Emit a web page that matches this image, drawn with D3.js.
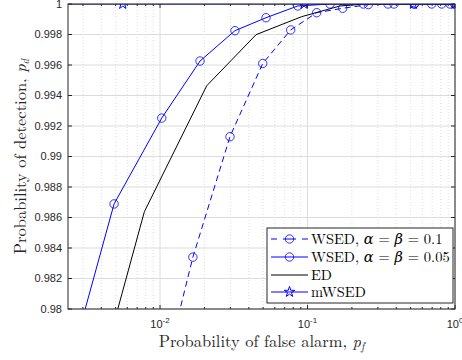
<!DOCTYPE html>
<html>
<head>
<meta charset="utf-8">
<script src="https://cdn.jsdelivr.net/npm/d3@7"></script>
<style>
  body { margin: 0; background: #fff; }
</style>
</head>
<body>
<div id="vis"></div>
<script>
var width = 462;
var height = 360;

// values
var pfWsed01 = [0.0076, 0.0167, 0.0298, 0.0497, 0.0769, 0.1154, 0.1732, 0.2584, 0.3858, 0.53, 0.695, 0.925, 1];
var pdWsed01 = [0.97, 0.9834, 0.9913, 0.9961, 0.9983, 0.99943, 0.99972, 0.99996, 1, 1, 1, 1, 1];

var pfWsed005 = [0.00224, 0.00488, 0.01027, 0.01867, 0.0322, 0.0523, 0.0858, 0.1421, 0.239, 0.3514, 0.53, 0.8125, 1];
var pdWsed005 = [0.975, 0.98689, 0.99252, 0.99626, 0.99825, 0.9991, 0.99987, 1, 1, 1, 1, 1, 1];

var pfEd = [0.0027, 0.00783, 0.02073, 0.0448, 0.0913, 0.166, 0.25, 1];
var pdEd = [0.97, 0.98638, 0.99464, 0.99799, 0.99917, 0.99987, 1, 1];

var pfMwsed = [0.002, 0.00559, 0.0948, 0.522, 1];
var pdMwsed = [1, 1, 1, 1, 1];

var yTicks = [0.98, 0.982, 0.984, 0.986, 0.988, 0.99, 0.992, 0.994, 0.996, 0.998, 1];
var yTickLabels = ["0.98", "0.982", "0.984", "0.986", "0.988", "0.99", "0.992", "0.994", "0.996", "0.998", "1"];
var xTicks = [0.01, 0.1, 1];
var xTickExp = ["-2", "-1", "0"];

var mLeft = 68, mTop = 4, mRight = 455, mBottom = 309;
var w = mRight - mLeft, h = mBottom - mTop;
var axisColor = "#262626";

var svg = d3.select("#vis")
            .append("svg")
            .attr("width", width)
            .attr("height", height)
            .style("font-family", "'Liberation Sans', Arial, sans-serif");

const x = d3.scaleLog()
        .domain([Math.pow(10, -2.624), 1])
        .range([0, w]);

const y = d3.scaleLinear()
        .domain([0.98, 1])
        .range([h, 0]);

var plot = svg.append("g")
        .attr("transform", `translate(${mLeft}, ${mTop})`);

// minor ticks (2..9 of each decade) inside the domain
var minorTicks = [];
[0.001, 0.01, 0.1].forEach(function (dec) {
  for (var k = 2; k <= 9; k++) {
    var v = dec * k;
    if (v >= x.domain()[0] && v <= 1) minorTicks.push(v);
  }
});

// grid
plot.append("g")
  .selectAll("line")
  .data(minorTicks)
  .enter()
  .append("line")
  .attr("x1", d => x(d)).attr("x2", d => x(d))
  .attr("y1", 0).attr("y2", h)
  .style("stroke", "#c9c9c9")
  .style("stroke-width", 0.6)
  .style("stroke-dasharray", "1,2");

plot.append("g")
  .selectAll("line")
  .data(xTicks)
  .enter()
  .append("line")
  .attr("x1", d => x(d)).attr("x2", d => x(d))
  .attr("y1", 0).attr("y2", h)
  .style("stroke", "#dcdcdc")
  .style("stroke-width", 1);

plot.append("g")
  .selectAll("line")
  .data(yTicks)
  .enter()
  .append("line")
  .attr("x1", 0).attr("x2", w)
  .attr("y1", d => y(d)).attr("y2", d => y(d))
  .style("stroke", "#dcdcdc")
  .style("stroke-width", 1);

// clip
svg.append("defs").append("clipPath")
  .attr("id", "clip")
  .append("rect")
  .attr("width", w)
  .attr("height", h);

var lines = plot.append("g").attr("clip-path", "url(#clip)");

var line = d3.line().x(d => x(d[0])).y(d => y(d[1]));

function zip(a, b) { return a.map((v, i) => [v, b[i]]); }

var series = [
  { pf: pfEd, pd: pdEd, color: "#000000", dash: null, marker: null },
  { pf: pfWsed01, pd: pdWsed01, color: "#0000ff", dash: "6,4", marker: "circle" },
  { pf: pfWsed005, pd: pdWsed005, color: "#0000ff", dash: null, marker: "circle" },
  { pf: pfMwsed, pd: pdMwsed, color: "#0000ff", dash: null, marker: "star" }
];

var star = d3.symbol().type(d3.symbolStar).size(34);

series.forEach(function (s) {
  var pts = zip(s.pf, s.pd);
  lines.append("path")
    .attr("d", line(pts))
    .style("fill", "none")
    .style("stroke", s.color)
    .style("stroke-width", 1)
    .style("stroke-dasharray", s.dash);
  if (s.marker === "circle") {
    lines.selectAll(null)
      .data(pts)
      .enter()
      .append("circle")
      .attr("cx", d => x(d[0]))
      .attr("cy", d => y(d[1]))
      .attr("r", 4.2)
      .style("fill", "none")
      .style("stroke", s.color)
      .style("stroke-width", 0.8);
  } else if (s.marker === "star") {
    lines.selectAll(null)
      .data(pts)
      .enter()
      .append("path")
      .attr("d", star)
      .attr("transform", d => `translate(${x(d[0])}, ${y(d[1])})`)
      .style("fill", "none")
      .style("stroke", s.color)
      .style("stroke-width", 1);
  }
});

// axes box and ticks
var frame = plot.append("g");
frame.append("rect")
  .attr("width", w).attr("height", h)
  .style("fill", "none")
  .style("stroke", axisColor)
  .style("stroke-width", 1);

function tickMarks(vals, len, horizontal) {
  vals.forEach(function (v) {
    if (horizontal) {
      var px = x(v);
      frame.append("line").attr("x1", px).attr("x2", px).attr("y1", h).attr("y2", h - len).style("stroke", axisColor);
      frame.append("line").attr("x1", px).attr("x2", px).attr("y1", 0).attr("y2", len).style("stroke", axisColor);
    } else {
      var py = y(v);
      frame.append("line").attr("x1", 0).attr("x2", len).attr("y1", py).attr("y2", py).style("stroke", axisColor);
      frame.append("line").attr("x1", w).attr("x2", w - len).attr("y1", py).attr("y2", py).style("stroke", axisColor);
    }
  });
}
tickMarks(xTicks, 4, true);
tickMarks(minorTicks, 2, true);
tickMarks(yTicks, 4, false);

// y tick labels
frame.selectAll(".ylab")
  .data(yTicks)
  .enter()
  .append("text")
  .attr("class", "ylab")
  .attr("x", -6)
  .attr("y", d => y(d))
  .attr("dy", "0.35em")
  .attr("text-anchor", "end")
  .style("font-size", "11px")
  .style("fill", axisColor)
  .text((d, i) => yTickLabels[i]);

// x tick labels, 10^n
var xl = frame.selectAll(".xlab")
  .data(xTicks)
  .enter()
  .append("text")
  .attr("class", "xlab")
  .attr("x", d => x(d))
  .attr("y", h + 19)
  .attr("text-anchor", "middle")
  .style("font-size", "11px")
  .style("fill", axisColor);
xl.append("tspan").text("10");
xl.append("tspan")
  .attr("dy", "-5")
  .style("font-size", "8px")
  .text((d, i) => xTickExp[i]);

// axis labels
var serif = "'Latin Modern Roman', 'CMU Serif', 'DejaVu Serif', serif";
var xLabel = svg.append("text")
  .attr("x", mLeft + w / 2)
  .attr("y", 347)
  .attr("text-anchor", "middle")
  .style("font-family", serif)
  .style("font-size", "16.5px")
  .style("fill", axisColor)
  .text("Probability of false alarm, ");
xLabel.append("tspan").style("font-style", "italic").text("p");
xLabel.append("tspan").attr("dy", 3).style("font-size", "11px").style("font-style", "italic").text("f");

var yLabel = svg.append("text")
  .attr("transform", `translate(26, ${mTop + h / 2}) rotate(-90)`)
  .attr("text-anchor", "middle")
  .style("font-family", serif)
  .style("font-size", "16.5px")
  .style("fill", axisColor)
  .text("Probability of detection, ");
yLabel.append("tspan").style("font-style", "italic").text("p");
yLabel.append("tspan").attr("dy", 3).style("font-size", "11px").style("font-style", "italic").text("d");

// legend
var legendNames = [
  ["WSED, ", "α", " = ", "β", " = 0.1"],
  ["WSED, ", "α", " = ", "β", " = 0.05"],
  ["ED"],
  ["mWSED"]
];
var legend = svg.append("g").attr("transform", "translate(267, 228)");
legend.append("rect")
  .attr("width", 186).attr("height", 75)
  .style("fill", "#fff")
  .style("stroke", axisColor)
  .style("stroke-width", 1);

var rowY = [11, 29, 47, 64];
var legendOrder = [1, 2, 0, 3];
legendOrder.forEach(function (si, i) {
  var s = series[si];
  var g = legend.append("g").attr("transform", `translate(0, ${rowY[i]})`);
  g.append("line")
    .attr("x1", 4).attr("x2", 41)
    .style("stroke", s.color)
    .style("stroke-width", 1)
    .style("stroke-dasharray", s.dash ? "6,6,13,6,6" : null);
  if (s.marker === "circle") {
    g.append("circle").attr("cx", 22.5).attr("r", 4.2)
      .style("fill", "none").style("stroke", s.color).style("stroke-width", 0.8);
  } else if (s.marker === "star") {
    g.append("path").attr("d", star).attr("transform", "translate(22.5, 0)")
      .style("fill", "none").style("stroke", s.color);
  }
  var t = g.append("text")
    .attr("x", 44)
    .attr("dy", "0.35em")
    .style("font-family", serif)
    .style("font-size", "14.5px")
    .style("fill", "#000");
  legendNames[i].forEach(function (part) {
    t.append("tspan")
      .style("font-style", (part === "α" || part === "β") ? "italic" : "normal")
      .text(part);
  });
});
</script>
</body>
</html>
